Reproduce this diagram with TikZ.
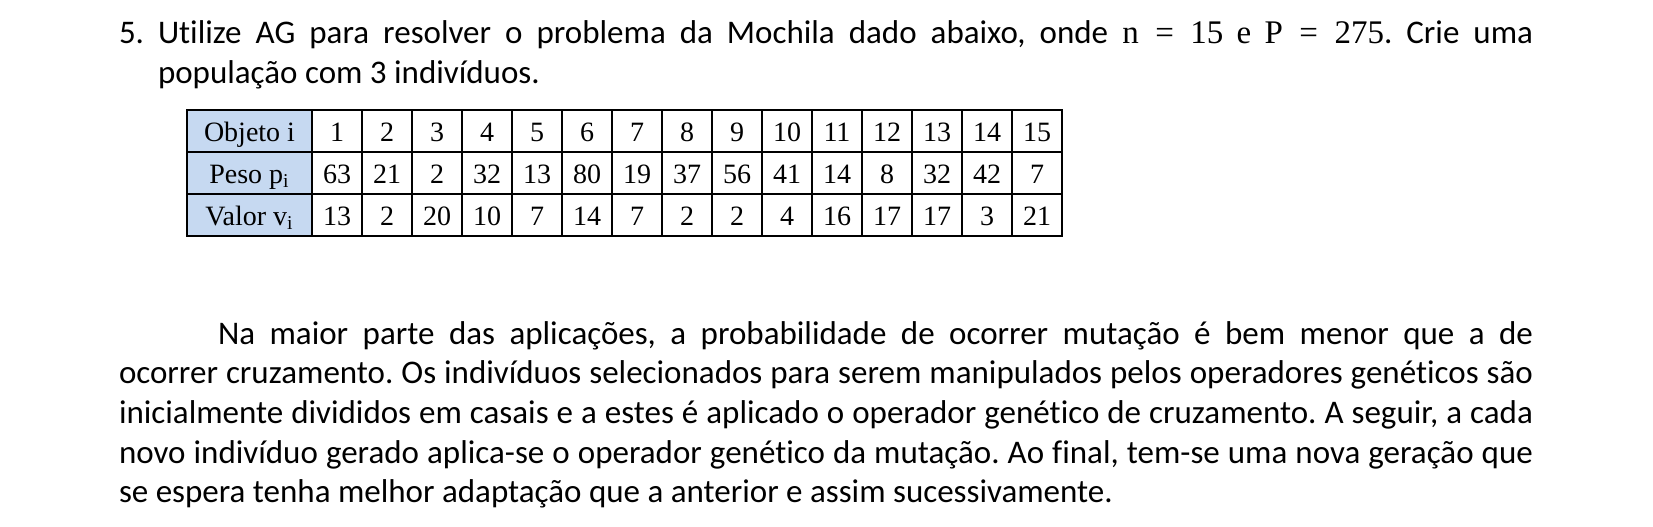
\documentclass[tikz,border=0pt]{standalone}
\usepackage{fontspec}
\setmainfont{Carlito}[Ligatures=NoCommon]
\newfontfamily\cambria{Liberation Serif}
\definecolor{hdr}{HTML}{C6D9F1}
\begin{document}
\frenchspacing
\begin{tikzpicture}[x=0.5pt,y=-0.5pt,
  txt/.style={anchor=base west, inner sep=0pt, outer sep=0pt, font=\fontsize{16.5pt}{20pt}\selectfont},
  cell/.style={anchor=base, inner sep=0pt, font=\cambria\fontsize{14pt}{16pt}\selectfont},
  inner/.style={line width=0.7pt},
  outer/.style={line width=1pt}]
\useasboundingbox (0,0) rectangle (1653,526);
% item 5
\node[txt] (n5) at (119,43) {5.};
\node[txt] (l1) at (158,43) {\makebox[687.5pt][s]{Utilize AG para resolver o problema da Mochila dado abaixo, onde \mbox{\cambria\fontsize{16.5pt}{18pt}\selectfont n\hspace{0.5em}=\hspace{0.5em}15\hspace{0.4em}e\hspace{0.4em}P\hspace{0.5em}=\hspace{0.5em}275}. Crie uma}};
\node[txt] (l2) at (158,83) {população com 3 indivíduos.};
% table
\fill[hdr] (187,110) rectangle (312,236);
\foreach \i in {0,...,14} \draw[inner] (312+50*\i,110) -- (312+50*\i,236);
\draw[inner] (187,152) -- (1062,152);
\draw[inner] (187,194) -- (1062,194);
\draw[outer] (187,110) rectangle (1062,236);
\node[cell] (h1) at (249.5,141.5) {Objeto i};
\node[cell] (h2) at (249.5,183.5) {Peso p\textsubscript{i}};
\node[cell] (h3) at (249.5,225.5) {Valor v\textsubscript{i}};
\foreach \v [count=\k] in {1,2,3,4,5,6,7,8,9,10,11,12,13,14,15}
  \node[cell] (o\k) at (287+50*\k,141.5) {\v};
\foreach \v [count=\k] in {63,21,2,32,13,80,19,37,56,41,14,8,32,42,7}
  \node[cell] (p\k) at (287+50*\k,183.5) {\v};
\foreach \v [count=\k] in {13,2,20,10,7,14,7,2,2,4,16,17,17,3,21}
  \node[cell] (v\k) at (287+50*\k,225.5) {\v};
% paragraph
\node[txt] (a1) at (218,344) {\makebox[657.5pt][s]{Na maior parte das aplicações, a probabilidade de ocorrer mutação é bem menor que a de}};
\node[txt] (a2) at (119,383) {\makebox[707pt][s]{ocorrer cruzamento. Os indivíduos selecionados para serem manipulados pelos operadores genéticos são}};
\node[txt] (a3) at (119,423) {\makebox[707pt][s]{inicialmente divididos em casais e a estes é aplicado o operador genético de cruzamento. A seguir, a cada}};
\node[txt] (a4) at (119,463) {\makebox[707pt][s]{novo indivíduo gerado aplica-se o operador genético da mutação. Ao final, tem-se uma nova geração que}};
\node[txt] (a5) at (119,502) {se espera tenha melhor adaptação que a anterior e assim sucessivamente.};
\end{tikzpicture}
\end{document}
